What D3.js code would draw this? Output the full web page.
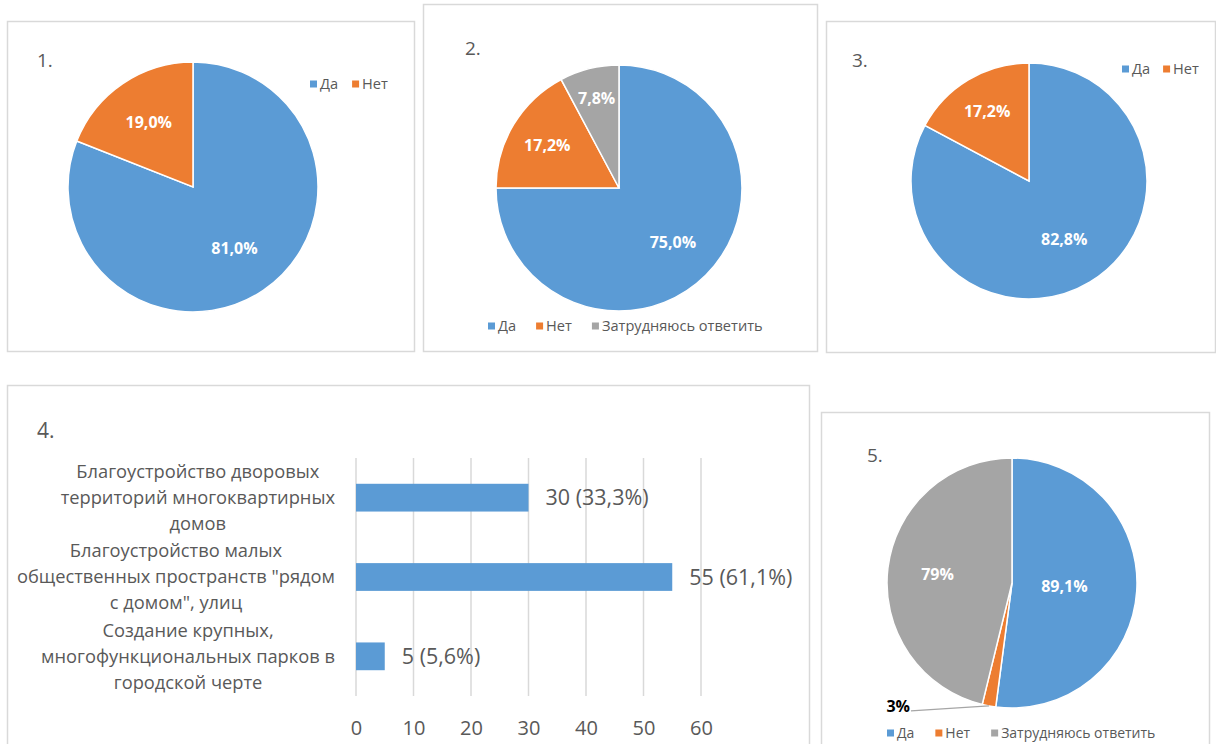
<!DOCTYPE html>
<html>
<head>
<meta charset="utf-8">
<script src="https://cdn.jsdelivr.net/npm/d3@7"></script>
<style>
  body { margin: 0; background: #fff; }
  svg { display: block; font-family: "Open Sans", sans-serif; }
</style>
</head>
<body>
<svg id="chart" width="1216" height="744"></svg>
<script>
// --- data ---
const colors = ["#5B9BD5", "#ED7D31", "#A5A5A5"];
const yesNo = ["Да", "Нет"];
const yesNoHard = ["Да", "Нет", "Затрудняюсь ответить"];

const pie1Values = [81.0, 19.0];
const pie2Values = [75.0, 17.2, 7.8];
const pie3Values = [82.8, 17.2];
const pie5Values = [89.1, 3, 79];

const barCategories = [
  "Благоустройство дворовых\nтерриторий многоквартирных\nдомов",
  "Благоустройство малых\nобщественных пространств \"рядом\nс домом\", улиц",
  "Создание крупных,\nмногофункциональных парков в\nгородской черте"
];
const barValues = [30, 55, 5];
const barShares = [33.3, 61.1, 5.6];
const barTicks = [0, 10, 20, 30, 40, 50, 60];

const textColor = "#595959";
const gridColor = "#D9D9D9";
const comma = s => s.replace(".", ",");
const fmt1 = v => comma(d3.format(".1f")(v)) + "%";
const fmtShort = v => comma(d3.format("~")(v)) + "%";

const svg = d3.select("#chart");
svg.append("rect").attr("width", 1216).attr("height", 744).attr("fill", "#fff");

// panel frames
const panels = [
  { x: 7, y: 21, w: 407, h: 330 },
  { x: 423, y: 4, w: 394, h: 347 },
  { x: 826, y: 21, w: 389, h: 331 },
  { x: 7, y: 385, w: 802, h: 380 },
  { x: 821, y: 412, w: 388, h: 350 }
];
svg.append("g").selectAll("rect").data(panels).join("rect")
  .attr("x", d => d.x + 0.5).attr("y", d => d.y + 0.5)
  .attr("width", d => d.w).attr("height", d => d.h)
  .attr("fill", "none").attr("stroke", gridColor).attr("stroke-width", 1.5);

function drawPie(cfg) {
  const g = svg.append("g");
  g.append("text")
    .attr("x", cfg.title[0]).attr("y", cfg.title[1])
    .attr("fill", textColor).style("font-size", "19px")
    .text(cfg.name);

  const pie = d3.pie().sort(null).value(d => d);
  const arcs = pie(cfg.values);
  const arc = d3.arc().innerRadius(0).outerRadius(cfg.r);
  const pg = g.append("g").attr("transform", `translate(${cfg.cx},${cfg.cy})`);

  pg.selectAll("path").data(arcs).join("path")
    .attr("d", arc)
    .attr("fill", (d, i) => colors[i])
    .attr("stroke", "#fff").attr("stroke-width", 1.5);

  arcs.forEach((a, i) => {
    const mid = (a.startAngle + a.endAngle) / 2;
    const k = cfg.labelR[i];
    if (k == null) {
      // small slice: label outside with a leader line
      const p0 = [Math.sin(mid) * cfg.r, -Math.cos(mid) * cfg.r];
      const p1 = [p0[0] + cfg.leader[0], p0[1] + cfg.leader[1]];
      pg.append("line")
        .attr("x1", p0[0]).attr("y1", p0[1]).attr("x2", p1[0]).attr("y2", p1[1])
        .attr("stroke", "#A6A6A6").attr("stroke-width", 1.2);
      pg.append("text")
        .attr("x", p1[0] - 1).attr("y", p1[1])
        .attr("text-anchor", "end").attr("dy", "0.1em")
        .attr("fill", "#000").style("font-size", "16px").style("font-weight", "bold")
        .text(cfg.format(a.data));
      return;
    }
    const rr = cfg.r * k;
    pg.append("text")
      .attr("x", Math.sin(mid) * rr).attr("y", -Math.cos(mid) * rr)
      .attr("text-anchor", "middle").attr("dy", "0.36em")
      .attr("fill", "#fff").style("font-size", "16px").style("font-weight", "bold")
      .text(cfg.format(a.data));
  });

  // legend, items laid out left to right
  let lx = cfg.legend[0];
  const ly = cfg.legend[1];
  cfg.labels.forEach((name, i) => {
    g.append("rect")
      .attr("x", lx).attr("y", ly - 3.5).attr("width", 7).attr("height", 7)
      .attr("fill", colors[i]);
    const t = g.append("text")
      .attr("x", lx + 10).attr("y", ly).attr("dy", "0.35em")
      .attr("fill", textColor).style("font-size", cfg.legendSize + "px")
      .text(name);
    lx += 10 + t.node().getComputedTextLength() + cfg.legendGap;
  });
}

drawPie({ name: "1.", values: pie1Values, labels: yesNo, format: fmt1,
  cx: 193, cy: 187, r: 125, title: [37, 67], legend: [310, 84], legendGap: 14,
  legendSize: 14.6, labelR: [0.59, 0.63] });
drawPie({ name: "2.", values: pie2Values, labels: yesNoHard, format: fmt1,
  cx: 619, cy: 188, r: 123, title: [465, 55], legend: [488, 326], legendGap: 20,
  legendSize: 14.6, labelR: [0.62, 0.68, 0.75] });
drawPie({ name: "3.", values: pie3Values, labels: yesNo, format: fmt1,
  cx: 1029, cy: 181, r: 118, title: [852, 67], legend: [1122, 69], legendGap: 13,
  legendSize: 14.6, labelR: [0.58, 0.69] });
drawPie({ name: "5.", values: pie5Values, labels: yesNoHard, format: fmtShort,
  cx: 1012, cy: 583, r: 125, title: [867, 462], legend: [887, 733], legendGap: 21,
  legendSize: 14, labelR: [0.42, null, 0.6], leader: [-78, 5] });

// --- bar chart (4.) ---
const bg = svg.append("g");
bg.append("text").attr("x", 37).attr("y", 438)
  .attr("fill", textColor).style("font-size", "21px").text("4.");

const x = d3.scaleLinear().domain([0, 60]).range([356, 701]);
const y = d3.scaleBand().domain(barCategories).range([458, 696])
  .paddingInner(0.65).paddingOuter(0.325);

bg.append("g").selectAll("line").data(barTicks).join("line")
  .attr("x1", d => x(d)).attr("x2", d => x(d))
  .attr("y1", 458).attr("y2", 696)
  .attr("stroke", gridColor).attr("stroke-width", 1.5);

const xAxis = bg.append("g").attr("transform", "translate(0,728)")
  .call(d3.axisBottom(x).tickValues(barTicks).tickSize(0).tickPadding(0));
xAxis.select(".domain").remove();
xAxis.selectAll("text")
  .attr("dy", "0.35em").attr("fill", textColor)
  .style("font-size", "20px").style("font-family", "Open Sans, sans-serif");

bg.append("g").selectAll("rect").data(barCategories).join("rect")
  .attr("x", x(0)).attr("y", d => y(d))
  .attr("width", (d, i) => x(barValues[i]) - x(0))
  .attr("height", y.bandwidth())
  .attr("fill", colors[0]);

bg.append("g").selectAll("text").data(barCategories).join("text")
  .attr("x", (d, i) => x(barValues[i]) + 17)
  .attr("y", d => y(d) + y.bandwidth() / 2)
  .attr("dy", "0.35em").attr("fill", textColor).style("font-size", "21.5px")
  .text((d, i) => `${barValues[i]} (${comma(barShares[i].toFixed(1))}%)`);

// category labels: lines centred within a block whose right edge sits left of the axis
const labelRight = x(0) - 21;
const catG = bg.append("g");
barCategories.forEach(cat => {
  const lines = cat.split("\n");
  const cy = y(cat) + y.bandwidth() / 2;
  const t = catG.append("text")
    .attr("text-anchor", "middle").attr("fill", textColor)
    .style("font-size", "18.3px");
  const spans = lines.map((ln, j) => t.append("tspan")
    .attr("y", cy + (j - (lines.length - 1) / 2) * 26)
    .attr("dy", "0.35em")
    .text(ln));
  const maxW = d3.max(spans, s => s.node().getComputedTextLength());
  spans.forEach(s => s.attr("x", labelRight - maxW / 2));
});
</script>
</body>
</html>
